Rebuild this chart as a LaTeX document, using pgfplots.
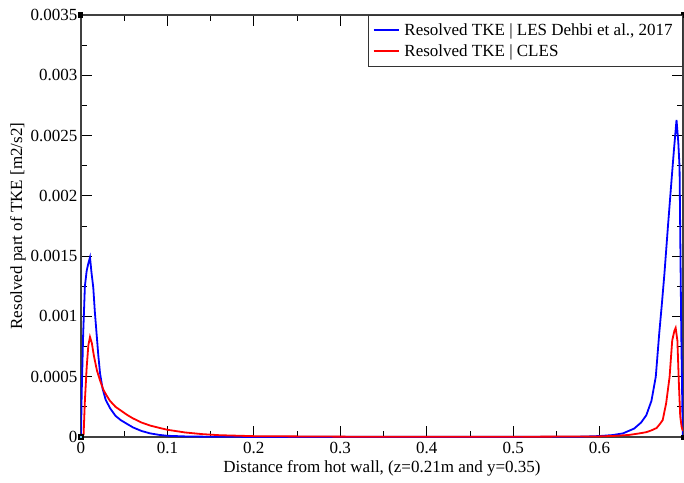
\documentclass[border=0pt]{standalone}
\usepackage{fontspec}
\setmainfont{Liberation Serif}
\usepackage{pgfplots}
\usepackage{pgfplotstable}
\pgfplotsset{compat=1.18}

% Resolved TKE profile, LES of Dehbi et al. (2017)
\pgfplotstableread{
x y
0.0000 0.00000
0.0008 0.00036
0.0025 0.00085
0.0045 0.00125
0.0066 0.00138
0.0085 0.00144
0.0104 0.00149
0.0122 0.00136
0.0142 0.00124
0.0160 0.00104
0.0180 0.00086
0.0200 0.00068
0.0220 0.00053
0.0250 0.00040
0.0285 0.00031
0.0335 0.00024
0.0400 0.000175
0.0460 0.000140
0.0530 0.000110
0.0600 0.000080
0.0700 0.000050
0.0800 0.000030
0.0910 0.000017
0.1000 0.000010
0.1200 0.000005
0.1500 0.000002
0.2000 0.000001
0.3000 0.000001
0.4000 0.000001
0.5000 0.000001
0.5800 0.000003
0.6000 0.000008
0.6150 0.000016
0.6270 0.000030
0.6400 0.000070
0.6480 0.000120
0.6540 0.000180
0.6600 0.000300
0.6650 0.000500
0.6690 0.000860
0.6720 0.001100
0.6750 0.001354
0.6790 0.001740
0.6830 0.002110
0.6860 0.002380
0.6890 0.002630
0.6910 0.002450
0.6925 0.002240
0.6945 0.000860
0.6962 0.000000
}\lesdata

% Resolved TKE profile, CLES
\pgfplotstableread{
x y
0.0000 0.00000
0.0030 0.00002
0.0045 0.00030
0.0066 0.00058
0.0085 0.00076
0.0104 0.00083
0.0125 0.00078
0.0150 0.00067
0.0185 0.00055
0.0220 0.00047
0.0260 0.00039
0.0300 0.00034
0.0335 0.00030
0.0400 0.000250
0.0460 0.000220
0.0530 0.000185
0.0600 0.000155
0.0700 0.000120
0.0800 0.000095
0.0910 0.000075
0.1000 0.000060
0.1200 0.000038
0.1400 0.000024
0.1600 0.000015
0.2000 0.000007
0.3000 0.000003
0.4000 0.000002
0.5000 0.000002
0.6000 0.000005
0.6200 0.000010
0.6350 0.000018
0.6460 0.000030
0.6540 0.000040
0.6600 0.000055
0.6660 0.000075
0.6700 0.000110
0.6730 0.000140
0.6770 0.000280
0.6810 0.000500
0.6840 0.000800
0.6865 0.000880
0.6880 0.000905
0.6900 0.000800
0.6917 0.000450
0.6933 0.000170
0.6950 0.000080
0.6965 0.000050
}\clesdata

\newcommand{\ticktext}[1]{{\rmfamily\fontsize{17}{20}\selectfont #1}}

\begin{document}
\begin{tikzpicture}
\begin{axis}[
  at={(0pt,0pt)}, anchor=south west,
  scale only axis,
  width=602pt, height=422pt,
  xmin=0, xmax=0.6965,
  ymin=0, ymax=0.0035,
  scaled x ticks=false, scaled y ticks=false,
  xtick={0,0.1,0.2,0.3,0.4,0.5,0.6},
  ytick={0,0.0005,0.001,0.0015,0.002,0.0025,0.003,0.0035},
  xticklabels={\ticktext{0},\ticktext{0.1},\ticktext{0.2},\ticktext{0.3},
               \ticktext{0.4},\ticktext{0.5},\ticktext{0.6}},
  yticklabels={\ticktext{0},\ticktext{0.0005},\ticktext{0.001},\ticktext{0.0015},
               \ticktext{0.002},\ticktext{0.0025},\ticktext{0.003},\ticktext{0.0035}},
  minor x tick num=1, minor y tick num=1,
  tick align=inside,
  major tick length=11pt, minor tick length=6pt,
  every tick/.style={black, line width=0.9pt},
  axis line style={draw=black!75, line width=1.3pt},
  xticklabel style={yshift=-2pt},
  label style={font=\fontsize{17}{20}\selectfont},
  xlabel={Distance from hot wall, (z=0.21m and y=0.35)},
  ylabel={Resolved part of TKE [m2/s2]},
  ylabel style={yshift=-2pt},
  legend style={at={(1,1)}, anchor=north east,
    draw=black!80, line width=0.6pt,
    font=\fontsize{17}{20}\selectfont,
    inner xsep=5pt, inner ysep=6pt, row sep=4pt,
    nodes={inner xsep=5pt}},
  legend cell align=left,
  legend image code/.code={\draw[#1, line width=1.6pt] (0pt,0pt) -- (25pt,0pt);},
  after end axis/.code={
    \fill[black] ([xshift=-2.5pt,yshift=-2.5pt]rel axis cs:0,1) rectangle ++(5pt,5pt);
    \fill[black] ([xshift=-2.5pt,yshift=-2.5pt]rel axis cs:1,1) rectangle ++(5pt,5pt);
    \fill[black] ([xshift=-2.5pt,yshift=-2.5pt]rel axis cs:1,0) rectangle ++(5pt,5pt);
    \fill[black] ([xshift=-3pt,yshift=-3pt]rel axis cs:0,0) rectangle ++(6pt,6pt);
    \fill[cyan!60] ([xshift=-1.2pt,yshift=-1.2pt]rel axis cs:0,0) rectangle ++(2.4pt,2.4pt);
  },
]
\addplot[blue, line width=1.8pt] table[x=x, y=y] {\lesdata};
\addlegendentry{Resolved TKE | LES Dehbi et al., 2017}
\addplot[red, line width=1.8pt] table[x=x, y=y] {\clesdata};
\addlegendentry{Resolved TKE | CLES}
\end{axis}
\pgfresetboundingbox
\path (-81pt,-45pt) rectangle (603pt,437pt);
\end{tikzpicture}
\end{document}
